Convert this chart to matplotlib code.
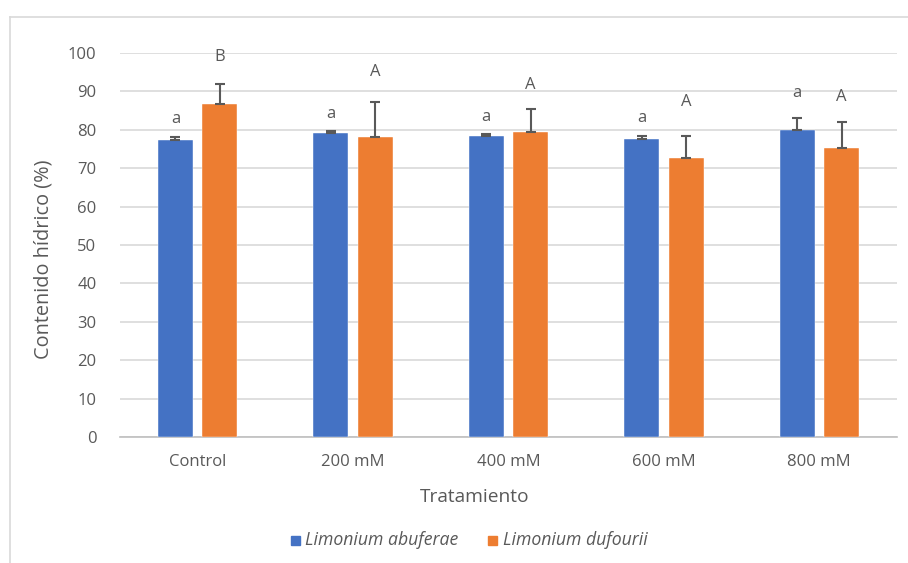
import matplotlib
matplotlib.use("Agg")
import matplotlib.pyplot as plt
from matplotlib.patches import Rectangle
from matplotlib.lines import Line2D
import numpy as np

categories = ["Control", "200 mM", "400 mM", "600 mM", "800 mM"]
abuferae = [77.4, 79.1, 78.3, 77.7, 79.9]
abuferae_err = [0.7, 0.6, 0.7, 0.8, 3.3]
dufourii = [86.7, 78.0, 79.4, 72.6, 75.3]
dufourii_err = [5.2, 9.3, 6.0, 5.7, 6.7]
letters_abuferae = ["a", "a", "a", "a", "a"]
letters_abuferae_y = [82.8, 84.0, 83.3, 83.0, 89.7]
letters_dufourii = ["B", "A", "A", "A", "A"]
letters_dufourii_y = [99.0, 95.0, 91.7, 87.3, 88.6]
series_names = ["Limonium abuferae", "Limonium dufourii"]
yticks = [0, 10, 20, 30, 40, 50, 60, 70, 80, 90, 100]

plt.rcParams["font.family"] = ["Open Sans", "DejaVu Sans"]
BLUE = "#4472C4"
ORANGE = "#ED7D31"
GREY_TXT = "#595959"
GRID = "#D9D9D9"

W, H = 908, 563
fig = plt.figure(figsize=(W / 100, H / 100), dpi=100)

# chart-area frame (light grey border)
fig.add_artist(Line2D([10 / W, 10 / W], [0, 1 - 17 / H], color=GRID, lw=1.2,
                      transform=fig.transFigure))
fig.add_artist(Line2D([10 / W, 1], [1 - 17 / H, 1 - 17 / H], color=GRID, lw=1.2,
                      transform=fig.transFigure))

ax = fig.add_axes([120 / W, 1 - 437 / H, 777 / W, 384 / H])
x = np.arange(len(categories))
bw = 0.225
off = 0.143

ax.bar(x - off, abuferae, bw, color=BLUE, edgecolor="white", linewidth=0.3, zorder=3)
ax.bar(x + off, dufourii, bw, color=ORANGE, edgecolor="white", linewidth=0.3, zorder=3)
ax.errorbar(x - off, abuferae, yerr=[np.zeros(len(x)), abuferae_err], fmt="none",
            ecolor=GREY_TXT, elinewidth=1.5, capsize=3.6, capthick=1.5, zorder=4)
ax.errorbar(x + off, dufourii, yerr=[np.zeros(len(x)), dufourii_err], fmt="none",
            ecolor=GREY_TXT, elinewidth=1.5, capsize=3.6, capthick=1.5, zorder=4)

for i in range(len(x)):
    ax.text(x[i] - off, letters_abuferae_y[i], letters_abuferae[i], ha="center",
            va="center", fontsize=12, color=GREY_TXT, zorder=5)
    ax.text(x[i] + off, letters_dufourii_y[i], letters_dufourii[i], ha="center",
            va="center", fontsize=12, color=GREY_TXT, zorder=5)

ax.set_xlim(-0.5, 4.5)
ax.set_ylim(0, 100)
ax.set_yticks(yticks)
ax.set_xticks(x)
ax.set_xticklabels(categories)
ax.yaxis.grid(True, color=GRID, lw=1.2, zorder=0)
ax.set_axisbelow(True)
for s in ["top", "right", "left"]:
    ax.spines[s].set_visible(False)
ax.spines["bottom"].set_color("#BFBFBF")
ax.spines["bottom"].set_linewidth(1.2)
ax.tick_params(axis="y", length=0, pad=17, labelsize=12, labelcolor=GREY_TXT)
ax.tick_params(axis="x", length=0, pad=12, labelsize=12, labelcolor=GREY_TXT)

fig.text(44 / W, 1 - 259 / H, "Contenido hídrico (%)", rotation=90, ha="center",
         va="center", fontsize=14.3, color=GREY_TXT)
fig.text(475 / W, 1 - 497 / H, "Tratamiento", ha="center", va="center",
         fontsize=13.8, color=GREY_TXT)

# legend
ly = 1 - 540 / H
sq = 9
for (sx, tx, col, name) in [(291, 305, BLUE, series_names[0]),
                            (488, 503, ORANGE, series_names[1])]:
    fig.add_artist(Rectangle((sx / W, ly - sq / 2 / H), sq / W, sq / H,
                             color=col, transform=fig.transFigure))
    fig.text(tx / W, ly, name, ha="left", va="center", fontsize=12.7,
             style="italic", color=GREY_TXT)

fig.savefig("out.png", dpi=100)
